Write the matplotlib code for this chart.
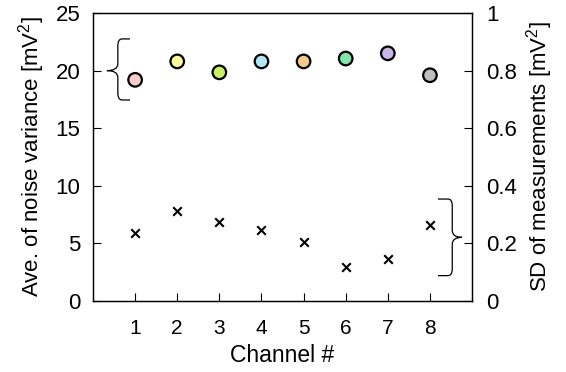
import matplotlib
matplotlib.use("Agg")
import matplotlib.pyplot as plt
from matplotlib.path import Path
from matplotlib.patches import PathPatch

plt.rcParams['font.family'] = ['Liberation Sans', 'DejaVu Sans']
plt.rcParams['mathtext.fontset'] = 'custom'
plt.rcParams['mathtext.rm'] = 'Liberation Sans'
plt.rcParams['mathtext.it'] = 'Liberation Sans:italic'

channels = [1, 2, 3, 4, 5, 6, 7, 8]
ave_noise_var = [19.2, 20.8, 19.85, 20.8, 20.8, 21.05, 21.5, 19.6]
sd_meas = [0.237, 0.312, 0.274, 0.246, 0.204, 0.117, 0.146, 0.265]
colors = ['#FFCCCC', '#FFFF99', '#C8F064', '#B4E6FA', '#F5C88C', '#82E6AA', '#C8B4E6', '#BEBEBE']
left_ticks = [0, 5, 10, 15, 20, 25]
right_ticks = [0, 0.2, 0.4, 0.6, 0.8, 1]
right_labels = ['0', '0.2', '0.4', '0.6', '0.8', '1']

fig = plt.figure(figsize=(5.66, 3.72), dpi=100)
ax = fig.add_axes([0.1643, 0.1909, 0.834 - 0.1643, 0.965 - 0.1909])
ax2 = ax.twinx()

FS = 16
ax.scatter(channels, ave_noise_var, s=95, c=colors, edgecolors='black', linewidths=1.6, zorder=3, clip_on=False)
ax2.scatter(channels, sd_meas, s=38, marker='x', c='black', linewidths=1.5, zorder=3)

ax.set_xlim(0, 9)
ax.set_ylim(0, 25)
ax2.set_ylim(0, 1)
ax.set_xticks(channels)
ax.set_yticks(left_ticks)
ax2.set_yticks(right_ticks)
ax2.set_yticklabels(right_labels)
ax.tick_params(axis='y', direction='in', length=6, width=0.8, labelsize=FS, pad=9)
ax.tick_params(axis='x', direction='in', length=6, width=0.8, labelsize=FS - 1, pad=13)
ax2.tick_params(axis='y', direction='in', length=6, width=0.8, labelsize=FS, pad=10)
ax.set_xlabel('Channel #', fontsize=FS + 0.5, labelpad=4)
ax.set_ylabel(r'Ave. of noise variance [mV$^2$]', fontsize=FS, labelpad=6)
ax2.set_ylabel(r'SD of measurements [mV$^2$]', fontsize=FS, labelpad=5)
for a in (ax, ax2):
    for s in a.spines.values():
        s.set_linewidth(0.9)


def brace(a, x_end, x_spine, x_tip, y_top, y_bot, y_mid, r_x, r_y):
    d = 1 if x_end > x_spine else -1
    verts = [
        (x_end, y_top),
        (x_spine + d * r_x, y_top), (x_spine, y_top), (x_spine, y_top - r_y),
        (x_spine, y_mid + r_y),
        (x_spine, y_mid), (x_tip, y_mid),
        (x_spine, y_mid), (x_spine, y_mid - r_y),
        (x_spine, y_bot + r_y),
        (x_spine, y_bot), (x_spine + d * r_x, y_bot),
        (x_end, y_bot),
    ]
    codes = [Path.MOVETO,
             Path.LINETO, Path.CURVE3, Path.CURVE3,
             Path.LINETO,
             Path.CURVE3, Path.CURVE3,
             Path.CURVE3, Path.CURVE3,
             Path.LINETO,
             Path.CURVE3, Path.CURVE3,
             Path.LINETO]
    a.add_patch(PathPatch(Path(verts, codes), fill=False, lw=0.9, color='black', clip_on=False))


brace(ax, 0.88, 0.59, 0.33, 22.75, 17.45, 20.0, 0.1, 0.6)
brace(ax2, 8.19, 8.53, 8.76, 0.354, 0.088, 0.221, 0.1, 0.024)

fig.savefig('out.png', dpi=100)
